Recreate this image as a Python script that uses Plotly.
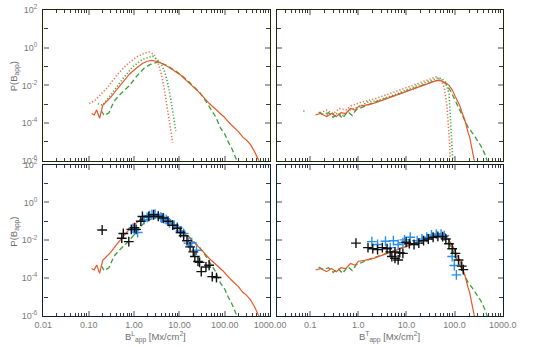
import plotly.graph_objects as go

# ---------------- data ----------------
# top-left / bottom-left : longitudinal field B^L_app
L_red_solid_x = [0.116, 0.132, 0.150, 0.174, 0.204, 0.24, 0.305, 0.42, 0.58, 0.80, 1.11, 1.53, 1.95, 2.48, 3.43,
                 5.6, 10.6, 16, 22, 28, 45, 62.5, 94, 140, 200, 250, 300, 370, 450, 552, 600]
L_red_solid_p = [3.2e-4, 2.7e-4, 5.0e-4, 1.8e-4, 8.7e-4, 1.3e-3, 2.3e-3, 6.2e-3, 1.66e-2, 4.0e-2, 8.1e-2, 0.145, 0.19,
                 0.21, 0.178, 0.098, 0.0355, 0.0141, 7.1e-3, 4.0e-3, 1.12e-3, 5.6e-4, 2.24e-4, 7.9e-5, 3.55e-5,
                 1.78e-5, 1.26e-5, 7.1e-6, 3.16e-6, 1.12e-6, 7.9e-7]

L_green_dash_x = [0.19, 0.22, 0.28, 0.36, 0.46, 0.58, 0.80, 1.11, 1.66, 2.29, 3.43, 5.6, 10.6, 16, 22, 28, 38.5,
                  53, 62.5, 80, 101, 119, 140, 178, 195]
L_green_dash_p = [4.5e-4, 2.5e-4, 3.55e-4, 1.41e-3, 2.8e-3, 5.0e-3, 1.0e-2, 2.8e-2, 8.1e-2, 0.129, 0.178, 0.107,
                  0.038, 0.0158, 7.6e-3, 4.2e-3, 1.41e-3, 4.0e-4, 2.24e-4, 5.6e-5, 2.5e-5, 1.0e-5, 5.0e-6,
                  1.26e-6, 8.0e-7]

L_red_dot_x = [0.103, 0.136, 0.188, 0.26, 0.42, 0.68, 1.11, 1.8, 2.18, 2.75, 3.53, 4.03, 4.72, 5.6, 6.53, 7.1]
L_red_dot_p = [1.1e-3, 1.55e-3, 3.5e-3, 7.6e-3, 0.036, 0.12, 0.316, 0.54, 0.575, 0.447, 0.12, 0.036, 5.1e-3,
               3.2e-4, 2.1e-5, 9.3e-6]

L_green_dot_x = [0.16, 0.204, 0.359, 0.582, 0.944, 1.53, 2.57, 3.71, 4.72, 5.6, 6.53, 7.45, 8.32]
L_green_dot_p = [1.07e-3, 8.7e-4, 5.1e-3, 0.0245, 0.098, 0.24, 0.355, 0.178, 0.054, 0.0112, 1.55e-3, 2.2e-4, 3.7e-5]

L_black_x = [0.198, 0.536, 0.58, 0.766, 0.87, 1.02, 1.11, 1.41, 1.53, 2.11, 2.7, 3.43, 4.37, 5.6, 7.1, 9.0, 10.6,
             12.4, 14.7, 17.2, 20.2, 21.9, 25.7, 27.9, 30.3, 38.5, 45.2, 53, 65.6]
L_black_p = [0.035, 0.0129, 0.0229, 8.5e-3, 0.038, 0.047, 0.038, 0.102, 0.182, 0.182, 0.224, 0.182, 0.151, 0.102,
             0.063, 0.043, 0.0257, 0.0174, 9.5e-3, 4.5e-3, 2.45e-3, 1.38e-3, 7.6e-4, 6.8e-4, 2.2e-4, 3.9e-4,
             4.8e-4, 1.2e-4, 1.07e-4]

L_blue_x = [0.944, 1.02, 1.2, 1.66, 1.94, 2.2, 2.48, 2.91, 3.43, 3.9, 4.03, 4.5, 5.13, 6.02, 7.66, 9.0, 10.6, 12.4,
            15.8, 18.7, 23.8]
L_blue_p = [0.0427, 0.0339, 0.0257, 0.123, 0.162, 0.2, 0.224, 0.24, 0.204, 0.166, 0.151, 0.141, 0.123, 0.083,
            0.063, 0.05, 0.031, 0.0229, 7.1e-3, 7.4e-3, 3.0e-3]

# top-right / bottom-right : transverse field B^T_app
T_red_solid_x = [0.13, 0.163, 0.22, 0.277, 0.348, 0.437, 0.548, 0.689, 0.865, 1.01, 1.36, 1.85, 2.15, 4.6, 9.86,
                 21, 38.7, 48.6, 65.8, 76.7, 90, 104, 130, 141, 164, 191, 206, 251, 262]
T_red_solid_p = [2.7e-4, 3.2e-4, 2.2e-4, 3.2e-4, 2.2e-4, 3.55e-4, 3.2e-4, 5.9e-4, 4.8e-4, 7.8e-4, 8.7e-4, 1.07e-3,
                 1.15e-3, 2.3e-3, 4.8e-3, 0.01, 0.0166, 0.0182, 0.0138, 0.01, 5.6e-3, 2.5e-3, 7.9e-4, 4.0e-4,
                 1.41e-4, 3.2e-5, 1.78e-5, 1.38e-6, 8.9e-7]

T_green_dash_x = [0.15, 0.19, 0.24, 0.3, 0.38, 0.47, 0.6, 0.75, 0.9, 1.1, 1.4, 1.8, 4.6, 9.86, 21, 38.7, 48, 65,
                  82.6, 104, 130, 152, 191, 250, 351, 440, 480]
T_green_dash_p = [3.8e-4, 2.8e-4, 3.55e-4, 2.0e-4, 3.2e-4, 1.78e-4, 4.0e-4, 2.5e-4, 5.0e-4, 6.3e-4, 7.9e-4, 1.05e-3,
                  2.4e-3, 5.0e-3, 0.0105, 0.0174, 0.019, 0.0126, 5.1e-3, 1.58e-3, 5.0e-4, 2.2e-4, 6.0e-5, 2.4e-5,
                  6.3e-6, 1.9e-6, 8.9e-7]

T_red_dot_x = [0.072, 0.08, None, 0.16, 0.22, 0.3, 0.405, 0.55, 0.743, 1.17, 1.71, 2.15, 4.6, 9.86, 21, 33.2, 41.7,
               52.4, 61, 68.8, 74.3, 78.9, 80.5]
T_red_dot_p = [4.3e-4, 4.3e-4, None, 3.55e-4, 4.8e-4, 3.2e-4, 5.9e-4, 5.0e-4, 8.7e-4, 1.29e-3, 1.66e-3, 1.9e-3,
               3.7e-3, 7.6e-3, 0.0155, 0.0245, 0.0282, 0.0204, 7.6e-3, 1.07e-3, 1.0e-4, 9.3e-6, 1.3e-6]

T_green_dot_x = [0.22, 0.348, 0.5, 0.64, 1.01, 1.59, 2.51, 6.25, 15.6, 28.5, 45, 54, 65.8, 76.7, 80, 84, 88, 92]
T_green_dot_p = [2.7e-4, 3.2e-4, 2.5e-4, 4.8e-4, 7.2e-4, 1.29e-3, 1.58e-3, 3.5e-3, 9.1e-3, 0.0166, 0.0245, 0.0229,
                 0.0138, 3.5e-3, 6.3e-4, 6.3e-5, 6.3e-6, 1.1e-6]

T_black_x = [0.894, 1.59, 2.0, 2.51, 3.16, 3.96, 4.6, 4.98, 5.78, 6.73, 5.78, 7.27, 8.45, 9.86, 11.5, 14.4, 18.1,
             22.7, 28.5, 35.9, 45, 56.5, 65.8, 76.7, 89.3, 104, 121, 141, 152]
T_black_p = [7.1e-3, 4.1e-3, 3.6e-3, 3.2e-3, 4.1e-3, 3.6e-3, 2.45e-3, 1.38e-3, 1.12e-3, 9.1e-4, 2.45e-3, 2.2e-3,
             2.04e-3, 7.9e-3, 6.6e-3, 6.0e-3, 7.1e-3, 9.5e-3, 0.0117, 0.0145, 0.0162, 0.0155, 0.0117, 6.6e-3,
             3.6e-3, 2.04e-3, 9.1e-4, 4.3e-4, 2.8e-4]

T_blue_x = [1.91, 2.51, 3.67, 4.6, 5.36, 6.73, 8.45, 9.13, 12, 16.7, 21, 26.4, 33.2, 41.7, 52.4, 61, 89.3, 99, 109]
T_blue_p = [8.5e-3, 6.0e-3, 8.9e-3, 4.1e-3, 9.5e-3, 6.0e-3, 7.4e-3, 0.0105, 0.0145, 9.5e-3, 0.0117, 0.0145,
            0.019, 0.0214, 0.0214, 0.0174, 1.38e-3, 4.6e-4, 1.48e-4]

# tick labels
L_tick_vals = [0.01, 0.1, 1, 10, 100, 1000]
L_tick_text = ["0.01", "0.10", "1.00", "10.00", "100.00", "1000.00"]
T_tick_vals = [0.1, 1, 10, 100, 1000]
T_tick_text = ["0.1", "1.0", "10.0", "100.0", "1000.0"]
Y_tick_vals = [1e-6, 1e-4, 1e-2, 1, 100]
Y_tick_text = ["10<sup>-6</sup>", "10<sup>-4</sup>", "10<sup>-2</sup>", "10<sup>0</sup>", "10<sup>2</sup>"]
Y_minor_vals = [1e-5, 1e-3, 1e-1, 10]

# ---------------- styling ----------------
RED = "#e8582a"
RED_DOT = "#ea7048"
GREEN = "#3a9f3a"
GREEN_DOT = "#47aa47"
BLACK = "#111111"
BLUE = "#2a8ef0"
FONT = "Liberation Sans"
TICKFONT = dict(family=FONT, size=9, color="#7a7a7a")

W, H = 533, 347
def px_x(p):
    return p / W
def px_y(p):
    return 1 - p / H

dom_left = [px_x(36), px_x(274)]
dom_right = [px_x(280.7), px_x(518)]
dom_top = [px_y(159.3), px_y(3)]
dom_bot = [px_y(320), px_y(163.3)]

def minor_vals(lo_dec, hi_dec):
    vals = []
    for d in range(lo_dec, hi_dec + 1):
        for k in range(2, 10):
            vals.append(k * 10.0 ** d)
    return vals

def xaxis(domain, rng, tv, tt, show, frame, anchor, minors):
    return dict(type="log", domain=domain, range=rng, anchor=anchor,
                showline=True, mirror="ticks", linecolor=frame, linewidth=1.4,
                ticks="inside", ticklen=5, tickwidth=1.6, tickcolor="#a5a5a5",
                tickmode="array", tickvals=tv, ticktext=tt, showticklabels=show,
                tickfont=TICKFONT, showgrid=False, zeroline=False,
                minor=dict(tickmode="array", tickvals=minors, ticks="inside", ticklen=3,
                           tickwidth=1, tickcolor="#3a3a3a", showgrid=False))

def yaxis(domain, show, frame, anchor):
    return dict(type="log", domain=domain, range=[-6.0005, 2.0005], anchor=anchor,
                showline=True, mirror="ticks", linecolor=frame, linewidth=1.4,
                ticks="inside", ticklen=5, tickwidth=1.6, tickcolor="#a5a5a5",
                tickmode="array", tickvals=Y_tick_vals, ticktext=Y_tick_text, showticklabels=show,
                ticklabelstandoff=3,
                tickfont=TICKFONT, showgrid=False, zeroline=False,
                minor=dict(tickmode="array", tickvals=Y_minor_vals, ticks="inside", ticklen=4,
                           tickwidth=1, tickcolor="#3a3a3a", showgrid=False))

TOPFRAME = "#1f2a05"
BOTFRAME = "#0b2233"
L_range = [-2.0005, 3.0005]
T_range = [-1.699, 3.0005]
L_minor = minor_vals(-2, 2)
T_minor = minor_vals(-2, 2)[1:]

fig = go.Figure()

def line(x, y, color, dash, width, xa, ya):
    fig.add_trace(go.Scatter(x=x, y=y, mode="lines", line=dict(color=color, dash=dash, width=width),
                             xaxis=xa, yaxis=ya, showlegend=False, connectgaps=False, hoverinfo="skip"))

def crosses(x, y, color, xa, ya):
    fig.add_trace(go.Scatter(x=x, y=y, mode="markers",
                             marker=dict(symbol="cross-thin", size=7, line=dict(color=color, width=1.4)),
                             xaxis=xa, yaxis=ya, showlegend=False, hoverinfo="skip"))

DOT = "1.2px,2px"
DASH = "5px,3px"

# top-left
line(L_red_dot_x, L_red_dot_p, RED_DOT, DOT, 1.6, "x", "y")
line(L_green_dot_x, L_green_dot_p, GREEN_DOT, DOT, 1.6, "x", "y")
line(L_green_dash_x, L_green_dash_p, GREEN, DASH, 1.3, "x", "y")
line(L_red_solid_x, L_red_solid_p, RED, "solid", 1.2, "x", "y")
# top-right
line(T_red_dot_x, T_red_dot_p, RED_DOT, DOT, 1.6, "x2", "y2")
line(T_green_dot_x, T_green_dot_p, GREEN_DOT, DOT, 1.6, "x2", "y2")
line(T_green_dash_x, T_green_dash_p, GREEN, DASH, 1.3, "x2", "y2")
line(T_red_solid_x, T_red_solid_p, RED, "solid", 1.2, "x2", "y2")
# bottom-left
line(L_green_dash_x, L_green_dash_p, GREEN, DASH, 1.3, "x3", "y3")
line(L_red_solid_x, L_red_solid_p, RED, "solid", 1.2, "x3", "y3")
crosses(L_blue_x, L_blue_p, BLUE, "x3", "y3")
crosses(L_black_x, L_black_p, BLACK, "x3", "y3")
# bottom-right
line(T_green_dash_x, T_green_dash_p, GREEN, DASH, 1.3, "x4", "y4")
line(T_red_solid_x, T_red_solid_p, RED, "solid", 1.2, "x4", "y4")
crosses(T_blue_x, T_blue_p, BLUE, "x4", "y4")
crosses(T_black_x, T_black_p, BLACK, "x4", "y4")

fig.update_layout(
    width=W, height=H, autosize=False,
    margin=dict(l=0, r=0, t=0, b=0),
    paper_bgcolor="white", plot_bgcolor="white",
    xaxis=xaxis(dom_left, L_range, L_tick_vals, L_tick_text, False, TOPFRAME, "y", L_minor),
    yaxis=yaxis(dom_top, True, TOPFRAME, "x"),
    xaxis2=xaxis(dom_right, T_range, T_tick_vals, T_tick_text, False, TOPFRAME, "y2", T_minor),
    yaxis2=yaxis(dom_top, False, TOPFRAME, "x2"),
    xaxis3=xaxis(dom_left, L_range, L_tick_vals, L_tick_text, True, BOTFRAME, "y3", L_minor),
    yaxis3=yaxis(dom_bot, True, BOTFRAME, "x3"),
    xaxis4=xaxis(dom_right, T_range, T_tick_vals, T_tick_text, True, BOTFRAME, "y4", T_minor),
    yaxis4=yaxis(dom_bot, False, BOTFRAME, "x4"),
)

TITLEFONT = dict(family=FONT, size=9.5, color="#6e6e6e")
ann = [
    dict(text="P(B<sub>app</sub>)", x=px_x(6), y=px_y(72), textangle=-90),
    dict(text="P(B<sub>app</sub>)", x=px_x(6), y=px_y(233), textangle=-90),
    dict(text="B<sup>L</sup><sub>app</sub> [Mx/cm<sup>2</sup>]", x=px_x(154), y=px_y(341.5), textangle=0),
    dict(text="B<sup>T</sup><sub>app</sub> [Mx/cm<sup>2</sup>]", x=px_x(399), y=px_y(341.5), textangle=0),
]
for a in ann:
    fig.add_annotation(xref="paper", yref="paper", showarrow=False, xanchor="center", yanchor="middle",
                       font=TITLEFONT, **a)

fig.write_html("out.html", config={"displayModeBar": False},
               post_script="document.body.style.margin='0';document.body.style.overflow='hidden';")
